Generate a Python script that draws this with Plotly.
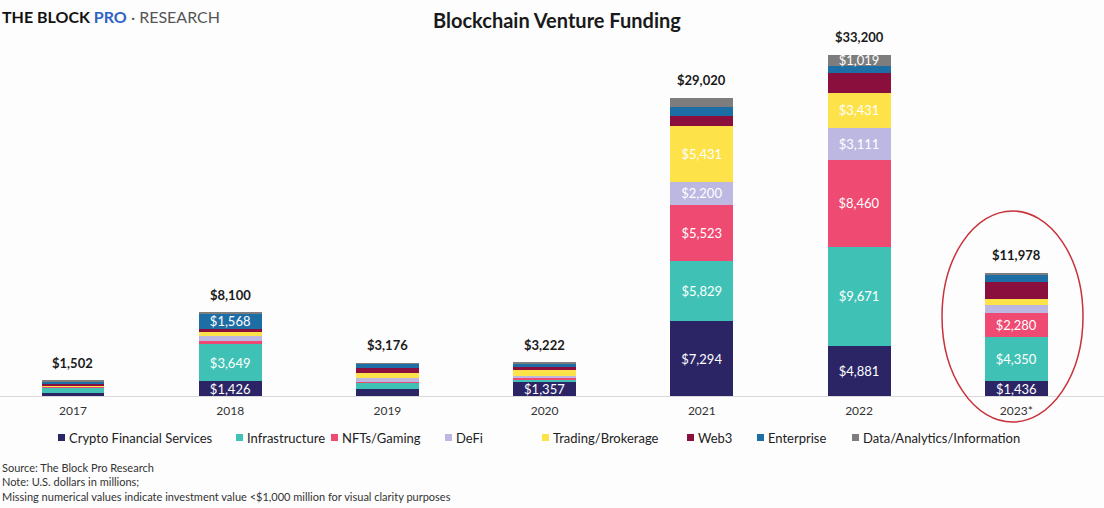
import plotly.graph_objects as go

years = ["2017", "2018", "2019", "2020", "2021", "2022", "2023*"]
totals = [1502, 8100, 3176, 3222, 29020, 33200, 11978]

crypto_fin = [320, 1426, 720, 1357, 7294, 4881, 1436]
infrastructure = [470, 3649, 640, 230, 5829, 9671, 4350]
nfts_gaming = [90, 330, 50, 150, 5523, 8460, 2280]
defi = [40, 420, 320, 200, 2200, 3111, 800]
trading = [110, 390, 480, 590, 5431, 3431, 620]
web3 = [120, 270, 480, 300, 980, 1950, 1650]
enterprise = [300, 1568, 430, 300, 900, 677, 742]
data_info = [52, 47, 56, 95, 863, 1019, 100]

series_names = ["Crypto Financial Services", "Infrastructure", "NFTs/Gaming", "DeFi",
                "Trading/Brokerage", "Web3", "Enterprise", "Data/Analytics/Information"]
series_values = [crypto_fin, infrastructure, nfts_gaming, defi, trading, web3, enterprise, data_info]
series_colors = ["#2b2566", "#3fc2b5", "#ef4a72", "#bdb8e2", "#fde24a", "#8a0f3c", "#1e6ea6", "#7d7d7d"]
series_labelled = [True, True, True, True, True, False, True, True]

# legend layout (pixel x of each legend marker)
legend_px = [58, 236, 331, 445, 542, 687, 757, 852]

FONT = "Lato, 'Open Sans', sans-serif"
W, H = 1104, 508
ML, MR, MT, MB = 0, 0, 40, 112
PW, PH = W - ML - MR, H - MT - MB


def px2x(px):
    return (px - ML) / PW


def py2y(py):
    return (H - MB - py) / PH


fig = go.Figure()
for name, vals, color, labelled in zip(series_names, series_values, series_colors, series_labelled):
    text = [f"${v:,}" if (labelled and v >= 1000) else "" for v in vals]
    fig.add_trace(go.Bar(
        name=name, x=years, y=vals, marker=dict(color=color, line=dict(width=0)),
        text=text, textposition="inside", insidetextanchor="middle",
        textfont=dict(color="white", size=13, family=FONT),
        hoverinfo="skip", constraintext="none", showlegend=False,
    ))

for i, tot in enumerate(totals):
    fig.add_annotation(x=i, y=tot, text=f"<b>${tot:,}</b>", showarrow=False,
                       yanchor="bottom", yshift=8,
                       font=dict(size=13, color="#1a1a1a", family=FONT))

# custom legend
for name, color, px in zip(series_names, series_colors, legend_px):
    fig.add_shape(type="rect", xref="paper", yref="paper",
                  x0=px2x(px), x1=px2x(px + 7), y0=py2y(441), y1=py2y(434),
                  fillcolor=color, line=dict(width=0))
    fig.add_annotation(xref="paper", yref="paper", x=px2x(px + 9), xanchor="left",
                       y=py2y(437.5), yanchor="middle", text=name, showarrow=False,
                       font=dict(size=13, color="#222", family=FONT))

# Title and branding
fig.add_annotation(xref="paper", yref="paper", x=px2x(557), y=py2y(20), yanchor="middle",
                   text="<b>Blockchain Venture Funding</b>", showarrow=False,
                   font=dict(size=20, color="#1a1a1a", family=FONT))
fig.add_annotation(xref="paper", yref="paper", x=px2x(0), xanchor="left", y=py2y(17), yanchor="middle",
                   text="<b>THE BLOCK </b><b><span style='color:#2f62c4'>PRO</span></b>"
                        "<span style='color:#555'> · RESEARCH</span>",
                   showarrow=False, font=dict(size=16, color="#111", family=FONT))

# Footnotes
notes = ["Source: The Block Pro Research",
         "Note: U.S. dollars in millions;",
         "Missing numerical values indicate investment value <$1,000 million for visual clarity purposes"]
for i, n in enumerate(notes):
    fig.add_annotation(xref="paper", yref="paper", x=px2x(0), xanchor="left",
                       y=py2y(467 + i * 14.5), yanchor="middle", text=n, showarrow=False,
                       font=dict(size=11, color="#333", family=FONT))

# Red highlight ellipse around 2023
fig.add_shape(type="circle", xref="paper", yref="paper",
              x0=px2x(942), x1=px2x(1083), y0=py2y(422), y1=py2y(211),
              line=dict(color="#c8323a", width=1.5), layer="above")

fig.update_layout(
    width=W, height=H,
    barmode="stack", bargap=0.6,
    paper_bgcolor="#fdfdfd", plot_bgcolor="#fdfdfd",
    margin=dict(l=ML, r=MR, t=MT, b=MB),
    font=dict(family=FONT, color="#222"),
    uniformtext=dict(minsize=13, mode="show"),
    showlegend=False,
    xaxis=dict(type="category", range=[-0.464, 6.558], showgrid=False,
               showline=True, linecolor="#d9d9d9", linewidth=1, ticks="",
               ticklabelstandoff=4,
               tickfont=dict(size=12, color="#333", family=FONT)),
    yaxis=dict(range=[0, 34670], visible=False),
)

fig.write_html("out.html", config={"displayModeBar": False},
               post_script="document.body.style.margin='0';")
